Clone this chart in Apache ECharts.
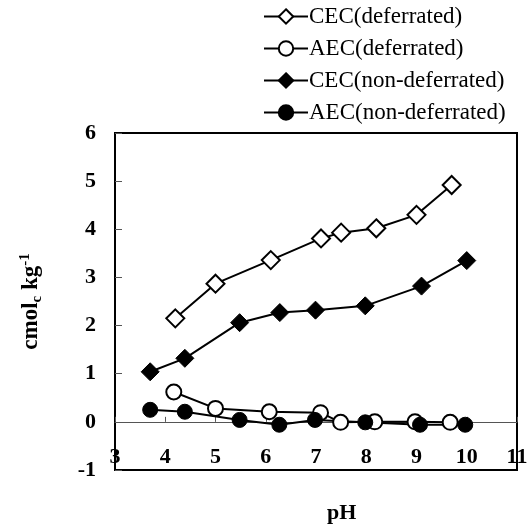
<!DOCTYPE html>
<html>
<head>
    <meta charset="utf-8"/>
    <title>CEC / AEC vs pH</title>
    <script src="https://cdn.jsdelivr.net/npm/echarts@6/dist/echarts.min.js"></script>
    <style>
        html, body { margin: 0; padding: 0; background: #fff; }
        #chart { width: 532px; height: 529px; }
    </style>
</head>
<body>
<div id="chart"></div>
<script>
    // pH values and exchange capacities (cmolc/kg)
    var cecDefPH = [4.2, 5.0, 6.1, 7.1, 7.5, 8.2, 9.0, 9.7];
    var cecDef = [2.15, 2.87, 3.36, 3.81, 3.93, 4.02, 4.30, 4.92];
    var aecDefPH = [4.17, 5.0, 6.07, 7.09, 7.49, 8.17, 8.97, 9.67];
    var aecDef = [0.62, 0.28, 0.21, 0.19, -0.01, 0.0, 0.0, -0.01];
    var cecNonPH = [3.7, 4.39, 5.48, 6.28, 6.99, 7.98, 9.1, 10.0];
    var cecNon = [1.04, 1.32, 2.06, 2.27, 2.32, 2.41, 2.82, 3.35];
    var aecNonPH = [3.7, 4.39, 5.48, 6.27, 6.98, 7.98, 9.07, 9.97];
    var aecNon = [0.25, 0.21, 0.04, -0.06, 0.04, -0.01, -0.06, -0.06];
    var seriesNames = ['CEC(deferrated)', 'AEC(deferrated)', 'CEC(non-deferrated)', 'AEC(non-deferrated)'];

    var font = "'Liberation Serif', 'Times New Roman', serif";

    function pairs(xs, ys) {
        return xs.map(function (x, i) { return [x, ys[i]]; });
    }

    function mkSeries(name, xs, ys, symbol, filled, size) {
        return {
            name: name,
            type: 'line',
            xAxisIndex: 0,
            data: pairs(xs, ys),
            symbol: symbol,
            symbolSize: size,
            showAllSymbol: true,
            lineStyle: {color: '#000', width: 2},
            itemStyle: {
                color: filled ? '#000' : '#fff',
                borderColor: '#000',
                borderWidth: filled ? 1 : 2
            },
            emphasis: {disabled: true}
        };
    }

    var chart = echarts.init(document.getElementById('chart'));
    var option = {
        animation: false,
        backgroundColor: '#fff',
        textStyle: {fontFamily: font},
        legend: {
            orient: 'vertical',
            left: 258,
            top: 0,
            itemWidth: 44,
            itemHeight: 18,
            itemGap: 9,
            textStyle: {fontFamily: font, fontSize: 23, color: '#000', padding: [0, 0, 0, -4]},
            data: seriesNames
        },
        grid: {
            left: 115,
            right: 15,
            top: 133,
            bottom: 59,
            show: true,
            borderColor: '#000',
            borderWidth: 2
        },
        graphic: [{
            type: 'text',
            left: 327,
            top: 502,
            style: {text: 'pH', font: 'bold 22px ' + font, fill: '#000'}
        }],
        xAxis: [{
            type: 'value',
            min: 3,
            max: 11,
            interval: 1,
            position: 'bottom',
            axisLine: {onZero: false, lineStyle: {color: '#000', width: 2}},
            axisTick: {show: false},
            splitLine: {show: false},
            axisLabel: {
                inside: true,
                margin: 2,
                showMinLabel: true,
                showMaxLabel: true,
                fontFamily: font,
                fontSize: 22,
                fontWeight: 'bold',
                color: '#000'
            }
        }, {
            type: 'value',
            min: 3,
            max: 11,
            interval: 1,
            position: 'bottom',
            axisLine: {onZero: true, lineStyle: {color: '#555', width: 1}},
            axisTick: {show: true, inside: true, length: 5, lineStyle: {color: '#555'}},
            splitLine: {show: false},
            axisLabel: {show: false}
        }],
        yAxis: {
            type: 'value',
            min: -1,
            max: 6,
            interval: 1,
            name: '{b|cmol}{sub|c}{b| kg}{sup|-1}',
            nameLocation: 'middle',
            nameRotate: 90,
            nameGap: 70,
            nameTextStyle: {
                rich: {
                    b: {fontFamily: font, fontSize: 23, fontWeight: 'bold', color: '#000'},
                    sub: {fontFamily: font, fontSize: 15, fontWeight: 'bold', color: '#000', verticalAlign: 'bottom', padding: [12, 0, 0, 0]},
                    sup: {fontFamily: font, fontSize: 15, fontWeight: 'bold', color: '#000', verticalAlign: 'top', padding: [0, 0, 12, 0]}
                }
            },
            axisLine: {show: true, onZero: false, lineStyle: {color: '#000', width: 2}},
            axisTick: {show: true, inside: true, length: 7, lineStyle: {color: '#555'}},
            splitLine: {show: false},
            axisLabel: {
                margin: 19,
                fontFamily: font,
                fontSize: 22,
                fontWeight: 'bold',
                color: '#000'
            }
        },
        series: [
            mkSeries(seriesNames[0], cecDefPH, cecDef, 'diamond', false, 18),
            mkSeries(seriesNames[1], aecDefPH, aecDef, 'circle', false, 15),
            mkSeries(seriesNames[2], cecNonPH, cecNon, 'diamond', true, 18),
            mkSeries(seriesNames[3], aecNonPH, aecNon, 'circle', true, 15)
        ]
    };
    chart.setOption(option);
</script>
</body>
</html>
